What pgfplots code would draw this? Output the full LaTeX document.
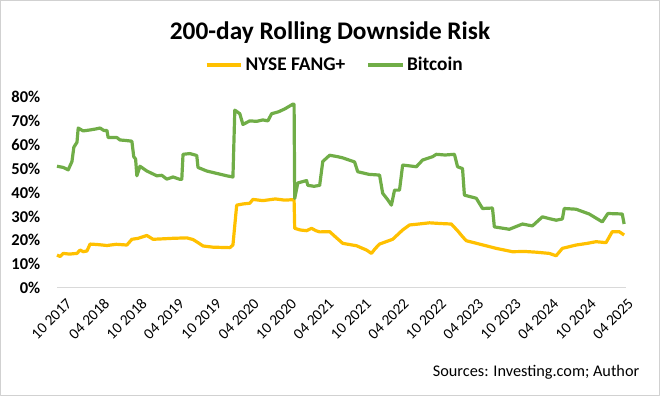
\documentclass[border=0pt]{standalone}
\usepackage{pgfplots}
\pgfplotsset{compat=1.18}
\usepackage{fontspec}
\setmainfont{Carlito}
\definecolor{fang}{HTML}{FFC000}
\definecolor{btc}{HTML}{70AD47}
\begin{document}
\begin{tikzpicture}
\begin{axis}[
  scale only axis, width=426.75pt, height=143.25pt,
  clip=false,
  xmin=0, xmax=91.2, ymin=0, ymax=80,
  axis x line*=bottom, axis y line*=left,
  x axis line style={draw=black!15, line width=0.75pt, -},
  y axis line style={draw=none},
  major tick length=0pt,
  ytick={0,10,...,80},
  yticklabels={0\%,10\%,20\%,30\%,40\%,50\%,60\%,70\%,80\%},
  yticklabel style={font=\bfseries\fontsize{12.4}{14}\selectfont, xshift=-9pt},
  xtick={0.3,6.3,...,90.3},
  xticklabels={10 2017,04 2018,10 2018,04 2019,10 2019,04 2020,10 2020,04 2021,10 2021,04 2022,10 2022,04 2023,10 2023,04 2024,10 2024,04 2025},
  xticklabel style={font=\fontsize{11.5}{13}\selectfont, rotate=45, anchor=east, yshift=-12.5pt, xshift=2pt},
  legend style={at={(0.489,1.1675)}, anchor=center, draw=none, fill=none,
    legend columns=2, font=\bfseries\fontsize{14.5}{16}\selectfont,
    /tikz/every even column/.append style={column sep=14pt}},
  legend image code/.code={\draw[#1] (0pt,0pt) -- (26pt,0pt);},
  line join=round,
]
\addplot[fang, line width=2.4pt] coordinates {
(0,13.8) (0.5,13.2) (1,14.5) (2,14.2) (3.2,14.5) (3.7,15.9) (4.2,15.2) (4.8,15.5) (5.3,18.4)
(6.5,18.2) (8,17.8) (9.5,18.3) (11.2,18) (12,20.4) (13,20.8) (14.4,22) (15.4,20.4)
(17,20.6) (18.5,20.8) (20.8,21) (21.8,20.3) (22.6,19) (23.4,17.6) (25,17.1) (27.7,16.9)
(28.2,18) (28.8,34.7) (29.8,35.2) (30.9,35.5) (31.4,37.1) (33,36.6) (35,37.3) (36.5,36.8) (37.8,37) (38,37)
(38.1,25) (39,24.3) (40,24) (40.8,25) (41.5,24) (42.1,23.5) (43.7,23.6) (44.8,21)
(45.8,18.7) (48,17.7) (49.6,15.9) (50.4,14.5) (51,16.5) (51.7,18.4) (53.8,20.4)
(55.4,24.3) (56.5,26.4) (58,26.8) (59.7,27.3) (61.5,27) (63.2,26.8) (64.2,24) (65,21.5)
(65.6,19.8) (67.7,18.4) (70.4,16.6) (73,15.2) (75,15.3) (76.8,15) (78.9,14.5) (80,13.5)
(81,16.6) (83.2,18) (85,18.7) (86.4,19.4) (88,19) (89,23.6) (90.1,23.6) (90.9,22.2)
};
\addlegendentry{NYSE FANG+}
\addplot[btc, line width=2.4pt] coordinates {
(0,51) (1,50.5) (1.8,49.5) (2.4,53) (2.7,59) (3.2,61) (3.4,67) (4.2,65.8) (5.3,66.2)
(6.2,66.6) (6.9,67) (7.5,66) (8,66) (8.2,63) (9.6,63) (10.1,62) (11,61.8) (12,61.5)
(12.3,55) (12.6,54) (12.8,47) (13.3,51) (14.4,49) (15.2,48) (16,47) (16.8,47.2) (17.6,45.6)
(18.6,46.5) (19.7,45.5) (20,45.5) (20.2,56) (21.3,56.3) (22.4,55.5) (22.6,50.5) (24,49)
(25.6,48) (27.2,47) (28.2,46.5) (28.5,74.5) (29.3,73) (29.8,68.5) (30.9,70) (32,69.8)
(33,70.4) (33.8,70) (34.4,73) (35.5,73.8) (36.5,75) (37.8,77) (38,77) (38.1,37.5)
(38.6,44) (40,45) (40.2,43) (41.2,42.6) (42.1,43) (42.6,53) (43.7,55.6) (45,55)
(45.8,54.5) (47.7,52.8) (48.2,48.7) (50,47.6) (51.7,47.3) (52.2,39.7) (53,37) (53.6,34.7)
(54.1,41) (54.9,41) (55.4,51.5) (57.6,50.8) (58.6,53.6) (60.2,55) (60.8,56) (62.2,55.7)
(63.7,56) (64.2,50.8) (65,50) (65.3,38.9) (66.3,38.2) (67.2,37.6) (68.2,33.3) (69.8,33.5)
(70.1,25.6) (72.5,24.6) (74.6,26.8) (76.2,26) (77.8,29.8) (79,29) (80,28.4) (81,28.9)
(81.3,33.3) (83.2,33) (85.3,31) (87.4,27.7) (88.3,31.2) (90.6,31) (90.9,26.8)
};
\addlegendentry{Bitcoin}
\draw[black!18, line width=0.75pt] (rel axis cs:-0.0993,-0.5628) rectangle (rel axis cs:1.0589,1.5053);
\node[font=\bfseries\fontsize{19}{22}\selectfont] at (rel axis cs:0.4798,1.3351) {200-day Rolling Downside Risk};
\node[font=\fontsize{12.2}{14}\selectfont, anchor=east] at (rel axis cs:1.0316,-0.4398) {Sources: Investing.com; Author};
\end{axis}
\end{tikzpicture}
\end{document}
